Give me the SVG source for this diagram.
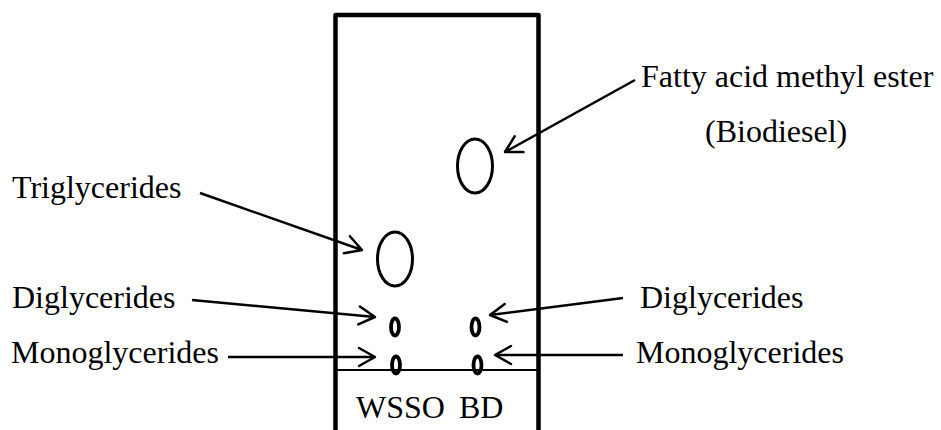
<svg xmlns="http://www.w3.org/2000/svg" width="941" height="430" viewBox="0 0 941 430">
<style>
text{font-family:"Liberation Serif","Times New Roman",serif;font-size:32px;fill:#000}
.spot{fill:none;stroke:#000;stroke-width:3}
.small{fill:none;stroke:#000;stroke-width:3.8}
.arr{fill:none;stroke:#000;stroke-width:2.5;marker-end:url(#ah)}
</style>
<defs>
<marker id="ah" markerUnits="userSpaceOnUse" markerWidth="40" markerHeight="40" viewBox="-20 -20 40 40" refX="0" refY="0" orient="auto" overflow="visible">
<path d="M-16,-9 L0,0 L-16,9" fill="none" stroke="#000" stroke-width="2.5" stroke-linecap="round" stroke-linejoin="round"/>
</marker>
</defs>
<g id="plate">
<path d="M335.5,430 L335.5,15 L538.5,15 L538.5,430" fill="none" stroke="#000" stroke-width="4.5" stroke-linejoin="round"/>
<line x1="336" y1="370" x2="538" y2="370" stroke="#000" stroke-width="2"/>
<text x="356" y="418">WSSO</text>
<text x="459" y="418">BD</text>
</g>
<g id="spot-fame"><ellipse class="spot" cx="475" cy="166" rx="17.5" ry="27"/></g>
<g id="spot-tg"><ellipse class="spot" cx="395" cy="259" rx="17.5" ry="27"/></g>
<g id="spot-dg-wsso"><ellipse class="small" cx="395" cy="327" rx="4" ry="8.5"/></g>
<g id="spot-dg-bd"><ellipse class="small" cx="475.5" cy="327" rx="4" ry="8.5"/></g>
<g id="spot-mg-wsso"><ellipse class="small" cx="396" cy="365" rx="4" ry="8.5"/></g>
<g id="spot-mg-bd"><ellipse class="small" cx="477.5" cy="365" rx="4" ry="8.5"/></g>
<g id="label-fame">
<text x="641" y="87">Fatty acid methyl ester</text>
<text x="705" y="142">(Biodiesel)</text>
</g>
<g id="label-tg"><text x="12" y="198">Triglycerides</text></g>
<g id="label-dg-left"><text x="12" y="308">Diglycerides</text></g>
<g id="label-mg-left"><text x="11" y="363">Monoglycerides</text></g>
<g id="label-dg-right"><text x="640" y="308">Diglycerides</text></g>
<g id="label-mg-right"><text x="636" y="363">Monoglycerides</text></g>
<g id="connectors">
<line class="arr" x1="635" y1="80" x2="505" y2="152"/>
<line class="arr" x1="200" y1="193" x2="362" y2="250"/>
<line class="arr" x1="192" y1="300" x2="375" y2="317"/>
<line class="arr" x1="228" y1="357" x2="375" y2="357"/>
<line class="arr" x1="623" y1="298" x2="490" y2="315"/>
<line class="arr" x1="623" y1="355" x2="495" y2="355"/>
</g>
</svg>
